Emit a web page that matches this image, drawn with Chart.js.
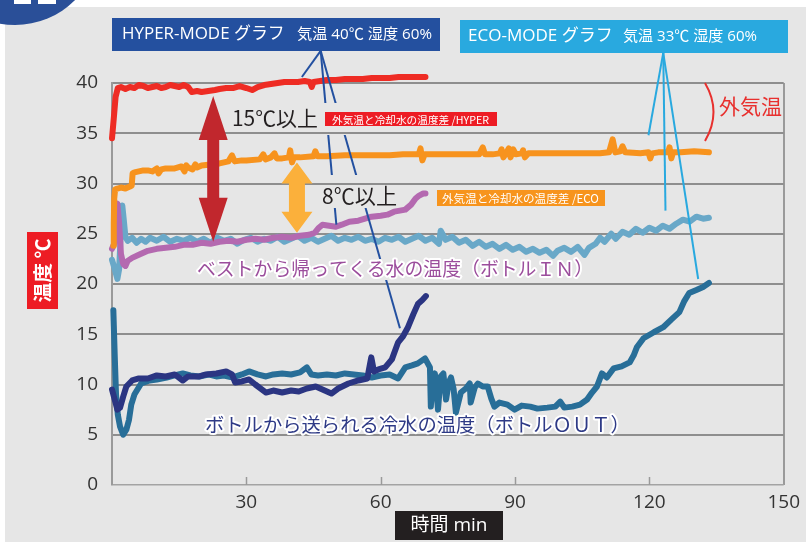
<!DOCTYPE html>
<html><head><meta charset="utf-8">
<script src="https://cdn.jsdelivr.net/npm/chart.js@4.4.1/dist/chart.umd.min.js"></script>
<style>html,body{margin:0;padding:0;background:#fff;}canvas{display:block;}</style>
</head><body>
<canvas id="c" width="806" height="542"></canvas>
<script>
// ---- tick values ----
const xTickValues = [0, 30, 60, 90, 120, 150];
const yTickValues = [0, 5, 10, 15, 20, 25, 30, 35, 40];

// ---- series: [time(min), temperature(℃)] ----
const outsideHyper = [[0,34.5],[0.4,36.5],[0.8,38.6],[1.3,39.5],[2,39.6],[3,39.4],[4,39.6],[5,39.5],[6,39.8],[7,39.7],[8,39.5],[9,39.6],[10,39.7],[11,39.5],[12,39.6],[13,39.8],[14,39.7],[15,39.6],[16,39.8],[17,39.6],[17.8,39.1],[19,39.2],[20,39.1],[21.5,39.2],[23,39.3],[24,39.4],[25.5,39.5],[27,39.5],[28.5,39.7],[30,39.5],[31.3,39.3],[32.5,39.6],[34,39.8],[35.5,39.9],[37,40.0],[38.5,40.1],[40,40.1],[41.5,40.1],[43,40.2],[44.2,40.1],[44.6,39.6],[45,40.1],[46.5,40.2],[48,40.3],[50,40.3],[52,40.4],[54,40.4],[56,40.4],[58,40.5],[60,40.5],[62,40.5],[64,40.6],[66,40.6],[68,40.6],[70,40.6]];

const outsideEco = [[0.3,23.8],[0.4,26],[0.5,28.5],[0.7,29.4],[1.2,29.5],[2,29.6],[3,29.5],[4,29.7],[4.4,29.8],[4.6,31.0],[5,31.1],[6,31.2],[7,31.3],[8,31.3],[9,31.2],[10,31.5],[10.4,31.0],[11,31.4],[12,31.5],[14,31.5],[15.5,31.7],[16.2,31.2],[16.6,31.8],[17,31.6],[18,31.4],[18.6,31.9],[19,31.6],[20,31.8],[22,31.9],[24,32.0],[26,32.2],[26.8,32.8],[27.4,32.2],[29,32.3],[30,32.3],[33,32.4],[33.8,32.9],[34.3,32.4],[35.5,32.6],[36.3,33.0],[36.8,32.5],[38,32.5],[39.5,32.6],[39.8,33.3],[40.2,32.1],[40.6,32.6],[42,32.6],[45,32.7],[45.4,33.2],[45.9,32.7],[48,32.7],[52,32.8],[55,32.8],[58,32.8],[62,32.8],[65,32.9],[68.5,32.9],[68.9,33.5],[69.3,32.3],[69.8,32.9],[72,32.9],[75,32.9],[78,32.9],[82,32.9],[82.8,33.6],[83.3,32.9],[85,32.9],[86.6,33.0],[87,33.4],[87.4,32.6],[88,33.0],[88.6,33.5],[89,32.6],[89.6,33.4],[90.2,32.9],[91.5,33.0],[91.8,33.3],[92.2,32.6],[93,33.0],[96,33.0],[100,33.0],[103,33.0],[106,33.0],[109,33.0],[111,33.1],[111.8,34.4],[112.4,33.1],[113.5,33.2],[114,33.7],[114.6,33.1],[118,33.0],[119.8,33.1],[120.2,32.5],[120.6,33.0],[122,33.1],[124.2,33.1],[124.5,33.6],[124.9,32.5],[125.3,33.1],[127,33.1],[130,33.2],[133.3,33.1]];

const bottleInHyper = [[0,23.5],[0.5,24],[0.9,27.5],[1.2,28.0],[1.6,26],[2,23],[2.5,22],[3,21.8],[3.5,22.3],[4.5,22.6],[6,22.9],[8,23.3],[10,23.5],[12,23.6],[14,23.7],[16,23.9],[18,23.9],[20,24.1],[22,24.0],[24,24.2],[26,24.3],[28,24.2],[30,24.4],[32,24.5],[34,24.4],[36,24.6],[38,24.7],[40,24.6],[42,24.8],[44,24.9],[45.3,25.1],[46.2,25.6],[47,25.9],[48.5,25.8],[50,25.7],[51.3,25.9],[53,26.2],[55,26.3],[56.5,26.5],[58,26.7],[60,26.8],[61.5,26.9],[63,27.2],[64.3,27.3],[65.5,27.4],[66.8,27.9],[67.8,28.5],[68.6,28.8],[69.5,29.0],[70,29.0]];

const bottleInEco = [[0,22.4],[0.6,21.5],[1.2,20.5],[1.6,21.5],[2,25.5],[2.3,27.8],[2.6,26.5],[3,24.7],[3.5,24.3],[4.5,24.6],[5.5,24.1],[6.5,24.5],[7.5,24.2],[8.5,24.6],[10,24.3],[11.5,24.7],[13,24.2],[14.5,24.5],[16,24.3],[17.5,24.6],[19,24.2],[20.5,24.5],[22,24.1],[23.5,24.6],[25,24.3],[26.5,24.5],[28,24.0],[29.5,24.4],[31,24.6],[32.5,24.2],[34,24.5],[35.5,24.3],[37,24.7],[38.5,24.2],[40,24.5],[41.5,24.8],[43,24.3],[44.5,24.6],[46,24.2],[47.5,24.5],[49,24.8],[50.5,24.3],[52,24.6],[53.5,24.4],[55,24.7],[56.5,24.3],[58,24.5],[59.5,24.2],[61,24.6],[62.5,24.4],[64,24.7],[65.5,24.2],[67,24.5],[68.5,24.8],[70,24.3],[71.5,24.6],[73,24.0],[73.4,25.3],[74.5,24.4],[76,24.7],[77.5,24.1],[79,24.4],[80.5,23.8],[82,24.2],[83.5,23.7],[85,24.0],[86.5,23.5],[88,23.9],[89.5,23.4],[91,23.7],[92.5,23.2],[94,23.5],[95.5,23.1],[97,23.4],[98.5,22.8],[99.5,23.3],[101,23.6],[102.5,23.2],[104,23.7],[105.5,22.9],[106.5,23.6],[108,24.0],[109,24.6],[110,24.2],[111.5,25.0],[112.5,24.5],[114,25.2],[115.5,24.9],[117,25.5],[118.5,25.1],[120,25.6],[121.5,25.3],[123,25.8],[124.5,25.5],[126,26.0],[127.5,26.4],[129,26.2],[130.5,26.7],[132,26.5],[133.3,26.6]];

const bottleOutHyper = [[0,9.5],[0.6,8.5],[1.2,7.5],[1.8,7.7],[2.5,8.8],[3.2,9.8],[4.5,10.4],[6,10.6],[8,10.6],[10,10.9],[12,10.8],[14,11.0],[15.8,10.4],[17,10.8],[19.5,10.8],[21,11.0],[23.3,11.1],[25.5,11.3],[26.8,11.0],[27.5,10.2],[29,10.3],[30.6,10.5],[32,10.0],[34.4,9.2],[36,9.4],[38,9.2],[40,9.4],[41.7,9.3],[43.5,9.6],[45.5,9.8],[47,9.5],[49,9.1],[50.5,9.6],[52.8,10.1],[55,10.4],[57,10.6],[57.9,12.7],[58.5,11.3],[59.5,11.5],[61,11.7],[62.5,12.5],[63.9,14.2],[65,14.8],[66.1,15.7],[67.3,17.0],[68.3,18.0],[69.3,18.4],[70.1,18.8]];

const bottleOutEco = [[0.3,17.4],[0.6,13],[0.9,9],[1.3,7.0],[1.8,5.8],[2.5,5.0],[3.2,5.5],[3.8,6.5],[4.3,8.0],[5,9.0],[6.5,10.1],[8.4,10.4],[10,10.5],[12.2,10.7],[14,10.9],[15.8,11.1],[17.5,10.9],[19.5,10.8],[21.5,11.0],[23.3,10.8],[25,10.9],[27,10.7],[29,11.0],[30.6,11.3],[32.5,11.0],[34.4,10.8],[36,11.0],[38,11.1],[40,11.0],[42,11.2],[43.5,11.7],[44.5,11.0],[46,10.9],[48,11.0],[50,10.9],[52,11.1],[54,11.0],[56,10.9],[58,10.7],[60,10.9],[62,11.0],[63.9,10.6],[65.5,11.7],[67,11.9],[68.3,12.1],[69.9,12.6],[71,11.7],[71.2,7.8],[71.6,10.5],[72.1,11.1],[72.8,7.5],[73.4,10.8],[74,11.1],[74.6,8.5],[75.2,10.2],[75.7,10.7],[76.3,9.5],[76.8,7.2],[77.9,9.2],[79,9.6],[79.9,10.1],[80.1,8.2],[81,9.7],[81.7,10.1],[82.8,9.8],[83.9,9.8],[84.7,8.6],[85.4,7.8],[86.5,8.2],[88.3,8.0],[89.9,7.5],[91.5,7.9],[93.4,7.8],[95,7.6],[97.2,7.7],[99,7.8],[100.1,8.3],[101,7.7],[102.8,7.8],[104.5,8.0],[106.1,8.5],[107.2,9.2],[108.3,9.8],[109.4,11.1],[110.5,10.7],[112,11.6],[113.8,11.8],[115.6,12.2],[116.5,12.9],[117.2,13.7],[118.7,14.6],[121,15.2],[123.1,15.7],[125,16.5],[126.7,17.2],[127.8,18.3],[128.9,19.1],[130.5,19.4],[132,19.7],[133.3,20.1]];

// ---- annotation anchors in data units (time, ℃) ----
const tempGapHyper = {x: 22.6, top: 38.7, bottom: 24.2};
const tempGapEco = {x: 41.3, top: 32.1, bottom: 25.1};
const hyperPointer = {apex: [46.6, 43.2], ends: [[42.4, 40.6], [50.1, 25.9], [64.3, 15.6]]};
const ecoPointer = {apex: [123.1, 43.0], ends: [[119.8, 34.8], [123.6, 27.3], [130.9, 20.5]]};

const LATIN = "'Open Sans','Noto Sans CJK JP',sans-serif";
const JP = "'Noto Sans CJK JP','Noto Sans',sans-serif";
const BG = '#e6e6e6';

const toXY = arr => arr.map(p => ({x: p[0], y: p[1]}));

function fitText(c, text, x, y, targetW, opts) {
  const weight = opts.weight || 'normal';
  const fam = opts.family || JP;
  c.font = `${weight} 20px ${fam}`;
  const w = c.measureText(text).width;
  const size = 20 * targetW / w;
  c.font = `${weight} ${size.toFixed(2)}px ${fam}`;
  c.textAlign = opts.align || 'left';
  c.textBaseline = 'middle';
  if (opts.halo) {
    c.lineJoin = 'round';
    c.strokeStyle = opts.halo;
    c.lineWidth = opts.haloW || 4;
    c.strokeText(text, x, y);
  }
  c.fillStyle = opts.color;
  c.fillText(text, x, y);
}

function dblArrow(c, x, yTop, yBot, headLen, headW, shaftW, color) {
  c.fillStyle = color;
  c.beginPath();
  c.moveTo(x, yTop);
  c.lineTo(x + headW / 2, yTop + headLen);
  c.lineTo(x + shaftW / 2, yTop + headLen);
  c.lineTo(x + shaftW / 2, yBot - headLen);
  c.lineTo(x + headW / 2, yBot - headLen);
  c.lineTo(x, yBot);
  c.lineTo(x - headW / 2, yBot - headLen);
  c.lineTo(x - shaftW / 2, yBot - headLen);
  c.lineTo(x - shaftW / 2, yTop + headLen);
  c.lineTo(x - headW / 2, yTop + headLen);
  c.closePath();
  c.fill();
}

const decor = {
  id: 'decor',
  beforeDraw(chart) {
    const c = chart.ctx;
    c.save();
    c.fillStyle = '#fff';
    c.fillRect(0, 0, chart.width, chart.height);
    c.fillStyle = BG;
    c.fillRect(5, 7, chart.width - 5, chart.height - 7);
    c.fillStyle = '#2a4f98';
    c.beginPath(); c.arc(15, -60, 85, 0, Math.PI * 2); c.fill();
    c.fillStyle = '#fff';
    c.fillRect(14, 0, 17, 4); c.fillRect(38, 0, 18, 4);

    // title boxes
    c.fillStyle = '#24509f';
    c.fillRect(112, 18, 328, 33);
    fitText(c, 'HYPER-MODE グラフ', 122, 34.5, 163, {color: '#fff', family: LATIN});
    fitText(c, '気温 40℃ 湿度 60%', 297, 35, 135, {color: '#fff', family: LATIN});
    c.fillStyle = '#29a9df';
    c.fillRect(460, 20, 328, 33);
    fitText(c, 'ECO-MODE グラフ', 468, 36.5, 145, {color: '#fff', family: LATIN});
    fitText(c, '気温 33℃ 湿度 60%', 623, 37, 134, {color: '#fff', family: LATIN});

    // axis titles
    c.fillStyle = '#ed1c24';
    c.fillRect(27, 232, 31, 77);
    c.save();
    c.translate(42.5, 270.5);
    c.rotate(-Math.PI / 2);
    fitText(c, '温度 ℃', 0, 0, 64, {color: '#fff', weight: 'bold', align: 'center'});
    c.restore();
    c.fillStyle = '#231f20';
    c.fillRect(395, 511, 108, 29);
    fitText(c, '時間 min', 449, 525.5, 77, {color: '#fff', family: LATIN, align: 'center'});
    c.restore();
  },
  beforeDatasetsDraw(chart) {
    const c = chart.ctx, xs = chart.scales.x, ys = chart.scales.y;
    c.save();
    c.strokeStyle = '#9a9a9a';
    c.lineWidth = 1.5;
    xTickValues.slice(1, -1).forEach(v => {
      const px = Math.round(xs.getPixelForValue(v)) + 0.5;
      c.beginPath(); c.moveTo(px, ys.bottom); c.lineTo(px, ys.bottom - 8); c.stroke();
    });
    c.restore();
  },
  afterDatasetsDraw(chart) {
    const c = chart.ctx, xs = chart.scales.x, ys = chart.scales.y;
    const X = v => xs.getPixelForValue(v), Y = v => ys.getPixelForValue(v);
    c.save();
    // difference arrows
    dblArrow(c, X(tempGapHyper.x), Y(tempGapHyper.top), Y(tempGapHyper.bottom), 44, 29, 12, '#c1272d');
    dblArrow(c, X(tempGapEco.x), Y(tempGapEco.top), Y(tempGapEco.bottom), 21, 31, 16, '#fbb03b');

    // pointer lines HYPER (with gaps behind labels)
    c.save();
    c.beginPath();
    c.rect(0, 0, chart.width, chart.height);
    c.rect(300, 103, 200, 32);
    c.rect(318, 175, 84, 33);
    c.rect(190, 259, 410, 21);
    c.clip('evenodd');
    c.strokeStyle = '#2350a0';
    c.lineWidth = 2;
    hyperPointer.ends.forEach(e => {
      c.beginPath();
      c.moveTo(X(hyperPointer.apex[0]), Y(hyperPointer.apex[1]));
      c.lineTo(X(e[0]), Y(e[1]));
      c.stroke();
    });
    c.restore();
    c.strokeStyle = '#29a9df';
    c.lineWidth = 2;
    ecoPointer.ends.forEach(e => {
      c.beginPath();
      c.moveTo(X(ecoPointer.apex[0]), Y(ecoPointer.apex[1]));
      c.lineTo(X(e[0]), Y(e[1]));
      c.stroke();
    });

    // outside-temperature bracket
    c.strokeStyle = '#e8302e';
    c.lineWidth = 2;
    c.beginPath();
    c.moveTo(705, 83);
    c.quadraticCurveTo(722, 112, 705, 141);
    c.stroke();
    fitText(c, '外気温', 719, 106, 63, {color: '#e8302e'});

    // labels
    fitText(c, '15℃以上', 232, 118, 86, {color: '#231f20'});
    fitText(c, '8℃以上', 322, 196, 75, {color: '#231f20'});
    c.fillStyle = '#ed1c24';
    c.fillRect(325, 112, 172, 14);
    fitText(c, '外気温と冷却水の温度差 /HYPER', 332, 119.5, 157, {color: '#fff'});
    c.fillStyle = '#f7941d';
    c.fillRect(437, 190, 168, 16);
    fitText(c, '外気温と冷却水の温度差 /ECO', 442, 198.5, 157, {color: '#fff'});
    fitText(c, 'ベストから帰ってくる水の温度（ボトルＩＮ）', 197, 269, 396, {color: '#9b4d9c', halo: '#fff', haloW: 4});
    fitText(c, 'ボトルから送られる冷水の温度（ボトルＯＵＴ）', 205, 425, 425, {color: '#2e3a86', halo: '#fff', haloW: 4});
    c.restore();
  }
};

const common = {showLine: true, pointRadius: 0, borderWidth: 6, clip: false, tension: 0,
  borderCapStyle: 'round', borderJoinStyle: 'round'};

new Chart(document.getElementById('c'), {
  type: 'scatter',
  data: {
    datasets: [
      Object.assign({label: '外気温 HYPER', data: toXY(outsideHyper), borderColor: '#ee2c24', order: 1}, common),
      Object.assign({label: '外気温 ECO', data: toXY(outsideEco), borderColor: '#f7931e', order: 2}, common),
      Object.assign({label: 'ボトルOUT HYPER', data: toXY(bottleOutHyper), borderColor: '#2b3582', order: 3}, common),
      Object.assign({label: 'ボトルOUT ECO', data: toXY(bottleOutEco), borderColor: '#286e98', order: 4}, common),
      Object.assign({label: 'ボトルIN HYPER', data: toXY(bottleInHyper), borderColor: '#b469b0', order: 5}, common),
      Object.assign({label: 'ボトルIN ECO', data: toXY(bottleInEco), borderColor: '#69a8c8', order: 6}, common)
    ]
  },
  options: {
    responsive: false,
    animation: false,
    devicePixelRatio: 1,
    layout: {padding: {left: 0, right: 18, top: 83, bottom: 0}},
    plugins: {legend: {display: false}, tooltip: {enabled: false}},
    scales: {
      x: {
        type: 'linear', min: 0, max: 150,
        afterBuildTicks: s => { s.ticks = xTickValues.map(v => ({value: v})); },
        afterFit: s => { s.height = 57; },
        ticks: {callback: v => (v === 0 ? '' : String(v)), color: '#333', padding: 6,
                font: {family: LATIN, size: 19}, maxRotation: 0, autoSkip: false},
        grid: {drawTicks: false, lineWidth: 2,
               color: c => (c.tick && c.tick.value === 150 ? '#9a9a9a' : 'rgba(0,0,0,0)')},
        border: {display: false}
      },
      y: {
        min: 0, max: 40,
        afterBuildTicks: s => { s.ticks = yTickValues.map(v => ({value: v})); },
        afterFit: s => { s.width = 112; },
        ticks: {color: '#333', padding: 14, font: {family: LATIN, size: 19}},
        grid: {drawTicks: false,
               lineWidth: c => (c.tick && c.tick.value === 0 ? 1.5 : 2),
               color: c => (c.tick && c.tick.value === 0 ? '#a3a3a3' : '#8e8e8e')},
        border: {display: true, color: '#9a9a9a', width: 2}
      }
    }
  },
  plugins: [decor]
});
</script>
</body></html>
